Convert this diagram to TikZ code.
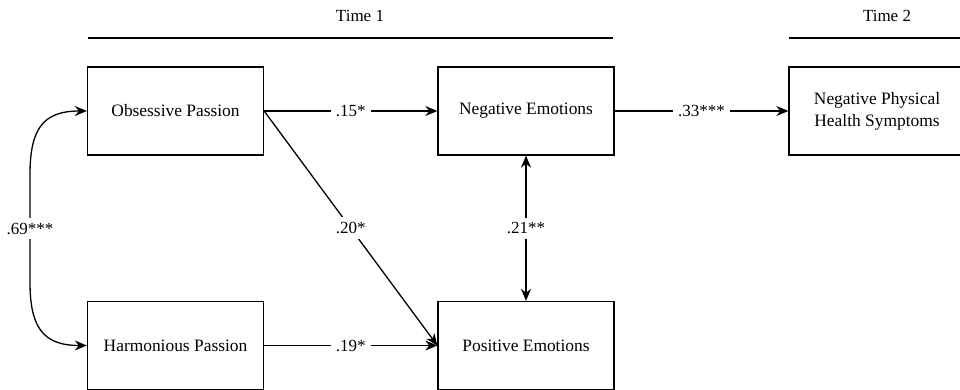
\documentclass[tikz,border=0pt]{standalone}
\usepackage{fontspec}
\setmainfont{Liberation Serif}
\usetikzlibrary{arrows.meta}
\begin{document}
\begin{tikzpicture}[x=1pt,y=-1pt,
  box/.style={draw, line width=1.3pt, minimum width=176pt, minimum height=88pt, inner sep=0pt, align=center, font=\fontsize{17.4}{22}\selectfont},
  conn/.style={line width=1.3pt, -{Stealth[length=12pt,width=10pt]}},
  biconn/.style={line width=1.3pt, {Stealth[length=12pt,width=10pt]}-{Stealth[length=12pt,width=10pt]}},
  lbl/.style={fill=white, inner sep=5pt, font=\fontsize{17}{20}\selectfont},
  timelbl/.style={font=\fontsize{17}{20}\selectfont},
  rule/.style={line width=1.3pt}]
\clip (0,0) rectangle (960,389);
% time headers
\node[timelbl] (t1) at (360,16) {Time 1};
\node[timelbl] (t2) at (887,16) {Time 2};
\coordinate (t1a) at (88,38);
\coordinate (t1b) at (613,38);
\coordinate (t2a) at (789,38);
\coordinate (t2b) at (962,38);
\draw[rule] (t1a) -- (t1b);
\draw[rule] (t2a) -- (t2b);
% boxes
\node[box] (OP) at (175.5,111) {Obsessive Passion};
\node[box] (NE) at (526,111) {Negative Emotions};
\node[box] (NP) at (877,111) {Negative Physical\\Health Symptoms};
\node[box] (HP) at (175.5,345.5) {Harmonious Passion};
\node[box] (PE) at (526,345.5) {Positive Emotions};
% connectors
\draw[conn] (OP.east) -- node[lbl] {.15*} (NE.west);
\draw[conn] (NE.east) -- node[lbl] {.33***} (NP.west);
\draw[conn] (HP.east) -- node[lbl] {.19*} (PE.west);
\draw[conn] (OP.east) -- node[lbl] {.20*} (PE.west);
\draw[biconn] (NE.south) -- node[lbl] {.21**} (PE.south |- PE.north);
\coordinate (c1) at (30,175);
\coordinate (c2) at (30,282);
\draw[biconn] (OP.west) .. controls (42,111) and (30,130) .. (c1) -- node[lbl] {.69***} (c2) .. controls (30,326) and (42,345.5) .. (HP.west);
\end{tikzpicture}
\end{document}
